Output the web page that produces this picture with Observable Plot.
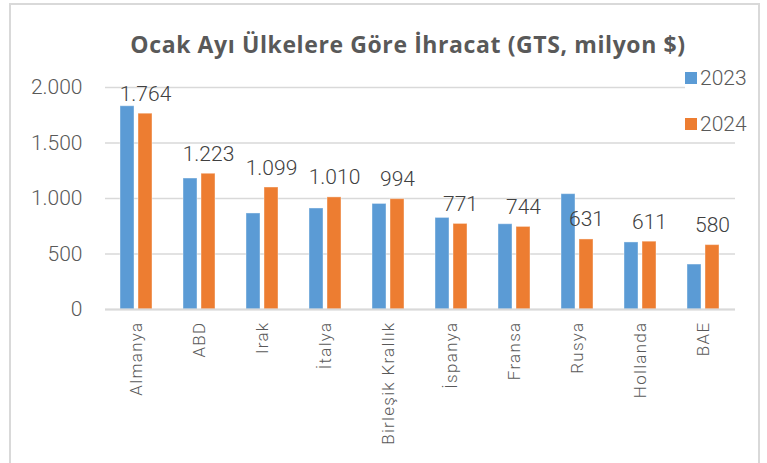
<!DOCTYPE html>
<html>
<head>
<meta charset="utf-8">
<script src="https://cdn.jsdelivr.net/npm/d3@7"></script>
<script src="https://cdn.jsdelivr.net/npm/@observablehq/plot@0.6"></script>
<style>
  html, body { margin: 0; padding: 0; background: #fff; overflow: hidden; }
  #wrap { position: relative; width: 767px; height: 463px; overflow: hidden; }
  #frame { position: absolute; left: 9px; top: 3px; width: 751px; height: 480px; border: 2px solid #d9d9d9; box-sizing: border-box; }
  #title { position: absolute; left: 0; width: 816px; top: 28px; text-align: center; font: bold 23px "Open Sans", sans-serif; letter-spacing: 0.6px; color: #595959; white-space: nowrap; }
  .leg { position: absolute; left: 685px; background: #fff; font: 300 21px Roboto, sans-serif; color: #595959; display: flex; align-items: center; padding-right: 4px; }
  .leg span.sw { display: inline-block; width: 12px; height: 12px; margin-right: 3px; }
  #chart svg { position: absolute; left: 0; top: 0; }
  #chart text { font-family: Roboto, sans-serif; font-weight: 300; }
  #chart g[aria-label="fx-axis tick label"] text { letter-spacing: 1.3px; }
</style>
</head>
<body>
<div id="wrap">
  <div id="chart"></div>
  <div id="frame"></div>
  <div id="title">Ocak Ayı Ülkelere Göre İhracat (GTS, milyon $)</div>
  <div class="leg" style="top:66px"><span class="sw" style="background:#5B9BD5"></span>2023</div>
  <div class="leg" style="top:112px"><span class="sw" style="background:#ED7D31"></span>2024</div>
</div>
<script>
const countries = ["Almanya","ABD","Irak","İtalya","Birleşik Krallık","İspanya","Fransa","Rusya","Hollanda","BAE"];
const years = ["2023","2024"];
const values2023 = [1831, 1180, 865, 910, 951, 825, 768, 1039, 604, 405];
const values2024 = [1764, 1223, 1099, 1010, 994, 771, 744, 631, 611, 580];
const yTicks = [0, 500, 1000, 1500, 2000];
const colors = ["#5B9BD5", "#ED7D31"];

const rows = [];
countries.forEach((c, i) => {
  rows.push({country: c, year: "2023", value: values2023[i]});
  rows.push({country: c, year: "2024", value: values2024[i]});
});
const rows2024 = rows.filter(d => d.year === "2024");

const tr = d3.formatLocale({decimal: ",", thousands: ".", grouping: [3], currency: ["", "$"]});
const fmt = tr.format(",d");

const chart = Plot.plot({
  width: 767,
  height: 463,
  marginLeft: 105,
  marginRight: 32,
  marginTop: 87,
  marginBottom: 154,
  style: {background: "transparent", color: "#595959", fontSize: "21px"},
  fx: {domain: countries, padding: 0, label: null, axis: null},
  x: {domain: years, paddingInner: 0.22, paddingOuter: 0.86, axis: null},
  y: {domain: [0, 2000], label: null, axis: null},
  color: {domain: years, range: colors},
  marks: [
    Plot.gridY(yTicks, {stroke: "#d9d9d9", strokeOpacity: 1, strokeWidth: 1.5}),
    Plot.axisY(yTicks, {tickSize: 0, tickPadding: 23, tickFormat: fmt, label: null, fontSize: 21, fill: "#595959"}),
    Plot.axisFx({anchor: "bottom", tickRotate: -90, tickSize: 0, tickPadding: 12, label: null, fontSize: 17, fill: "#595959"}),
    Plot.barY(rows, {fx: "country", x: "year", y: "value", fill: "year", stroke: "#ffffff", strokeOpacity: 0.4, strokeWidth: 1}),
    Plot.ruleY([0], {stroke: "#d9d9d9", strokeWidth: 2}),
    Plot.text(rows2024, {fx: "country", x: "year", y: "value", text: d => fmt(d.value), lineAnchor: "bottom", dy: -13, fill: "#404040", fontSize: 21})
  ]
});
document.getElementById("chart").appendChild(chart);
</script>
</body>
</html>
